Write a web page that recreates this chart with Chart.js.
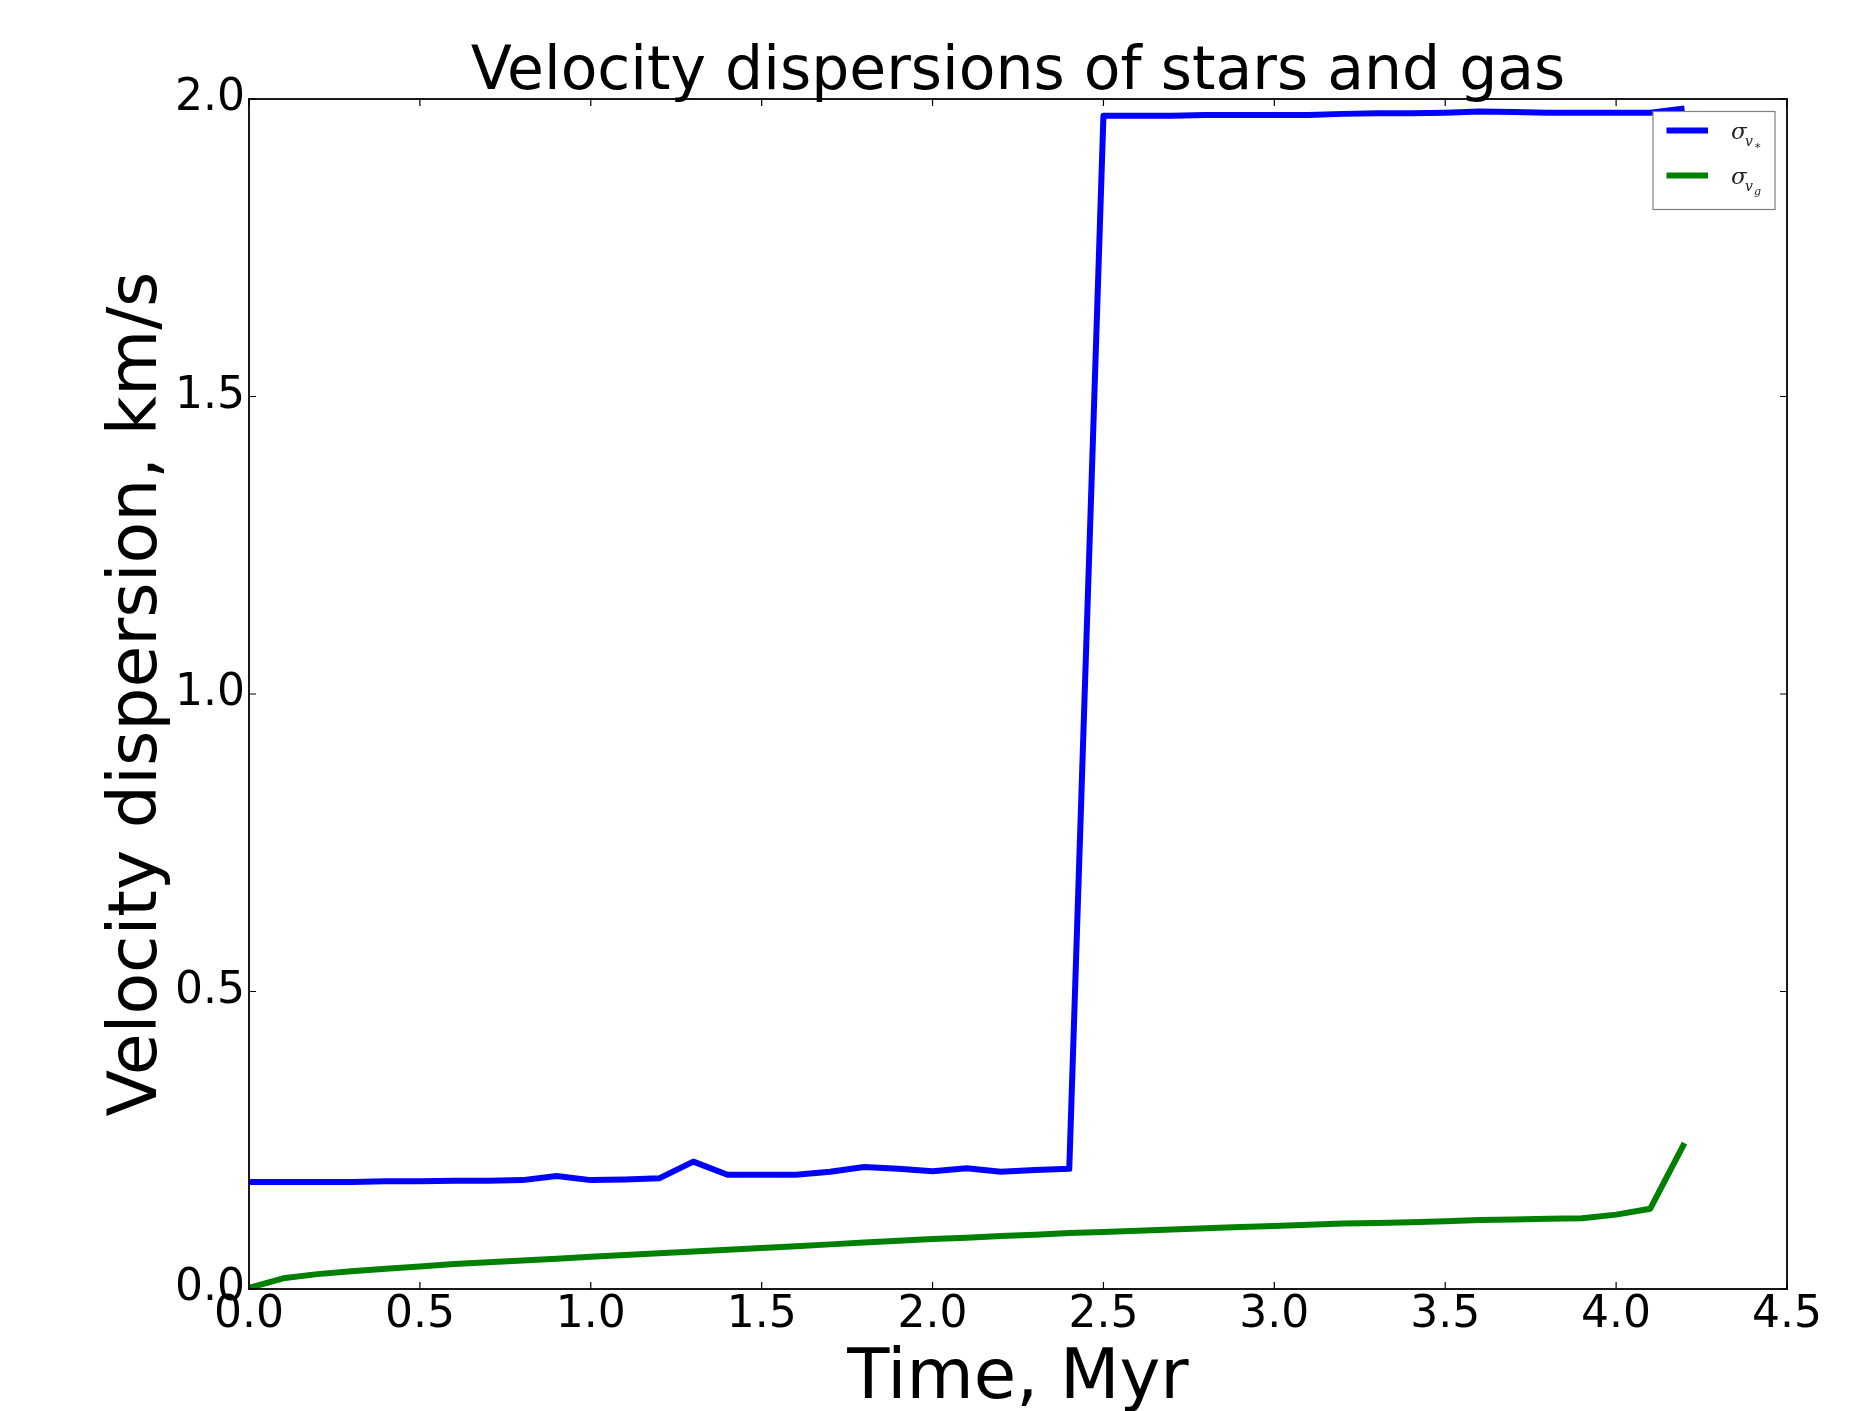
<!DOCTYPE html>
<html>
<head>
<meta charset="utf-8">
<script src="https://cdn.jsdelivr.net/npm/chart.js@4/dist/chart.umd.min.js"></script>
<style>
  html, body { margin: 0; padding: 0; background: #fff; }
  #wrap { width: 1875px; height: 1411px; }
</style>
</head>
<body>
<div id="wrap"><canvas id="c" width="1875" height="1411"></canvas></div>
<script>
// ---- data ----
const timeMyr = [0.0,0.1,0.2,0.3,0.4,0.5,0.6,0.7,0.8,0.9,1.0,1.1,1.2,1.3,1.4,1.5,1.6,1.7,1.8,1.9,2.0,2.1,2.2,2.3,2.4,2.5,2.6,2.7,2.8,2.9,3.0,3.1,3.2,3.3,3.4,3.5,3.6,3.7,3.8,3.9,4.0,4.1,4.2];
const sigmaStars = [0.180,0.180,0.180,0.180,0.181,0.181,0.182,0.182,0.183,0.190,0.183,0.184,0.186,0.214,0.192,0.192,0.192,0.197,0.205,0.202,0.198,0.203,0.197,0.200,0.202,1.972,1.972,1.972,1.973,1.973,1.973,1.973,1.975,1.976,1.976,1.977,1.979,1.978,1.977,1.977,1.977,1.977,1.984];
const sigmaGas = [0.002,0.018,0.025,0.030,0.034,0.038,0.042,0.045,0.048,0.051,0.054,0.057,0.060,0.063,0.066,0.069,0.072,0.075,0.078,0.081,0.084,0.086,0.089,0.091,0.094,0.096,0.098,0.100,0.102,0.104,0.106,0.108,0.110,0.111,0.112,0.114,0.116,0.117,0.118,0.119,0.125,0.135,0.245];
const xTickValues = [0.0,0.5,1.0,1.5,2.0,2.5,3.0,3.5,4.0,4.5];
const yTickValues = [0.0,0.5,1.0,1.5,2.0];
const seriesLabels = ['σ_v*', 'σ_vg'];
const seriesColors = ['#0000ff', '#008000'];
const chartTitle = 'Velocity dispersions of stars and gas';
const xTitle = 'Time, Myr';
const yTitle = 'Velocity dispersion, km/s';

const FONT = "'DejaVu Sans', 'Liberation Sans', sans-serif";

const toXY = (ys) => ys.map((v, i) => ({ x: timeMyr[i], y: v }));

// frame, inward ticks on all four sides, legend
const framePlugin = {
  id: 'framePlugin',
  afterDatasetsDraw(chart) {
    const { ctx, chartArea: a, scales: { x, y } } = chart;
    ctx.save();
    ctx.strokeStyle = '#000';
    ctx.lineWidth = 1.2;
    ctx.beginPath();
    xTickValues.forEach(v => {
      const px = x.getPixelForValue(v);
      ctx.moveTo(px, a.bottom); ctx.lineTo(px, a.bottom - 7);
      ctx.moveTo(px, a.top); ctx.lineTo(px, a.top + 7);
    });
    yTickValues.forEach(v => {
      const py = y.getPixelForValue(v);
      ctx.moveTo(a.left, py); ctx.lineTo(a.left + 7, py);
      ctx.moveTo(a.right, py); ctx.lineTo(a.right - 7, py);
    });
    ctx.stroke();
    ctx.lineWidth = 1.8;
    ctx.strokeRect(a.left, a.top, a.right - a.left, a.bottom - a.top);

    // legend (upper right, inside the axes)
    const lx = a.right - 134, ly = a.top + 12.5, lw = 122, lh = 98;
    ctx.fillStyle = '#fff';
    ctx.fillRect(lx, ly, lw, lh);
    ctx.strokeStyle = '#808080';
    ctx.lineWidth = 1.2;
    ctx.strokeRect(lx, ly, lw, lh);
    const rows = [ly + 19, ly + 64];
    chart.data.datasets.forEach((ds, i) => {
      const ry = rows[i];
      ctx.strokeStyle = ds.borderColor;
      ctx.lineWidth = 6;
      ctx.beginPath();
      ctx.moveTo(lx + 13.5, ry); ctx.lineTo(lx + 55, ry);
      ctx.stroke();
      ctx.fillStyle = '#222';
      ctx.textAlign = 'left';
      ctx.textBaseline = 'alphabetic';
      ctx.font = "italic 23px 'DejaVu Serif', 'Liberation Serif', serif";
      ctx.fillText('σ', lx + 78, ry + 8);
      ctx.font = "italic 14px 'DejaVu Serif', 'Liberation Serif', serif";
      ctx.fillText('v', lx + 92, ry + 15);
      const sub = ds.label.slice(-1);
      if (sub === '*') {
        ctx.font = "11px 'DejaVu Serif', 'Liberation Serif', serif";
        ctx.fillText('*', lx + 102, ry + 20);
      } else {
        ctx.font = "italic 11px 'DejaVu Serif', 'Liberation Serif', serif";
        ctx.fillText(sub, lx + 101, ry + 19);
      }
    });
    ctx.restore();
  }
};

new Chart(document.getElementById('c'), {
  type: 'line',
  data: {
    datasets: [
      { label: seriesLabels[0], data: toXY(sigmaStars), borderColor: seriesColors[0], backgroundColor: seriesColors[0],
        borderWidth: 6, pointRadius: 0, tension: 0, fill: false, borderJoinStyle: 'round' },
      { label: seriesLabels[1], data: toXY(sigmaGas), borderColor: seriesColors[1], backgroundColor: seriesColors[1],
        borderWidth: 6, pointRadius: 0, tension: 0, fill: false, borderJoinStyle: 'round' }
    ]
  },
  options: {
    responsive: false,
    animation: false,
    devicePixelRatio: 1,
    layout: { padding: { left: 0, right: 88, top: 0, bottom: 0 } },
    plugins: {
      legend: { display: false },
      tooltip: { enabled: false },
      title: {
        display: true, text: chartTitle, color: '#000', fullSize: false,
        font: { family: FONT, size: 60, weight: 'normal', lineHeight: 0.85 },
        padding: { top: 47.5, bottom: 0.5 }
      }
    },
    scales: {
      x: {
        type: 'linear', min: 0, max: 4.5,
        afterFit(s) { s.height = 122; },
        afterBuildTicks(s) { s.ticks = xTickValues.map(v => ({ value: v })); },
        grid: { display: false, drawTicks: false },
        border: { display: false },
        ticks: { color: '#000', padding: 5, maxRotation: 0, autoSkip: false,
          font: { family: FONT, size: 44, lineHeight: 1 },
          callback: v => Number(v).toFixed(1) },
        title: { display: true, text: xTitle, color: '#000',
          font: { family: FONT, size: 69, lineHeight: 0.85 }, padding: { top: 0, bottom: 1.7 } }
      },
      y: {
        type: 'linear', min: 0, max: 2,
        afterFit(s) { s.width = 249; },
        afterBuildTicks(s) { s.ticks = yTickValues.map(v => ({ value: v })); },
        grid: { display: false, drawTicks: false },
        border: { display: false },
        ticks: { color: '#000', padding: 4, autoSkip: false,
          font: { family: FONT, size: 44, lineHeight: 1 },
          callback: v => Number(v).toFixed(1) },
        title: { display: true, text: yTitle, color: '#000',
          font: { family: FONT, size: 68, lineHeight: 1 }, padding: { top: 104, bottom: 0 } }
      }
    }
  },
  plugins: [framePlugin]
});
</script>
</body>
</html>
